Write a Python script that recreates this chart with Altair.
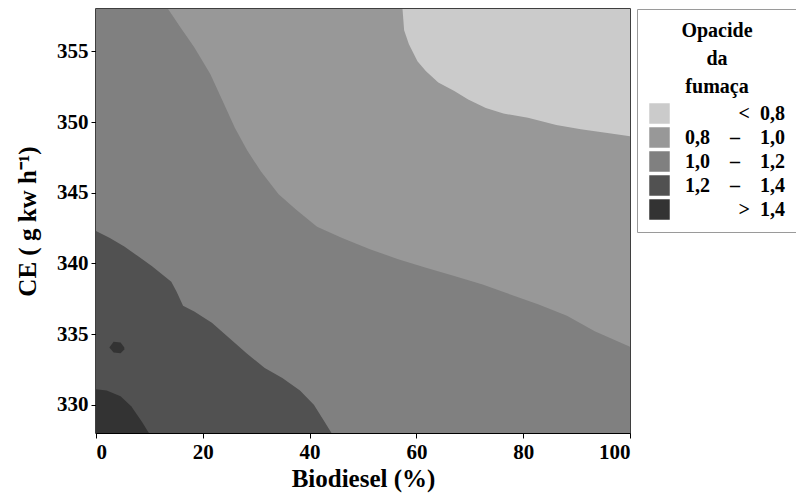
import altair as alt
import pandas as pd

NB = "\u00a0"
# Legend classes and their grey fills
bands = [
    "<" + NB * 2 + "0,8",
    "0,8" + NB * 4 + "–" + NB * 4 + "1,0",
    "1,0" + NB * 4 + "–" + NB * 4 + "1,2",
    "1,2" + NB * 4 + "–" + NB * 4 + "1,4",
    ">" + NB * 2 + "1,4",
]
grays = ["#cbcbcb", "#989898", "#808080", "#515151", "#333333"]

Y_MIN, Y_MAX = 328.0, 358.0
X_MIN, X_MAX = 0.0, 100.0

# Contour boundary: "< 0,8" / "0,8 – 1,0"
b4_x = [57.4, 57.7, 58.6, 60.2, 61.8, 64.1, 67.1, 69.7, 73.0, 76.3, 80.9, 86.2, 90.8, 96.1, 100.0]
b4_y = [358.0, 356.5, 355.5, 354.3, 353.6, 352.8, 352.2, 351.6, 351.0, 350.6, 350.3, 349.8, 349.5, 349.2, 349.0]

# Contour boundary: "0,8 – 1,0" / "1,0 – 1,2"
b3_x = [0.0, 13.5, 15.8, 18.4, 21.4, 23.7, 26.0, 28.3, 30.9, 34.2, 37.5, 41.4, 46.1, 51.3, 56.6, 61.8, 67.1,
        72.4, 77.6, 82.9, 88.2, 93.4, 100.0]
b3_y = [358.0, 358.0, 356.7, 355.3, 353.4, 351.5, 349.6, 348.0, 346.5, 344.9, 343.8, 342.6, 341.8, 341.0,
        340.3, 339.7, 339.1, 338.5, 337.8, 337.1, 336.3, 335.2, 334.1]

# Contour boundary: "1,0 – 1,2" / "1,2 – 1,4"
b2_x = [0.0, 2.6, 5.3, 7.9, 10.5, 14.1, 15.1, 16.3, 18.4, 21.7, 25.0, 28.3, 31.6, 34.9, 38.2, 40.8, 42.8, 44.1]
b2_y = [342.3, 341.8, 341.2, 340.5, 339.8, 338.7, 338.0, 337.0, 336.6, 335.8, 334.7, 333.6, 332.6, 331.9,
        331.0, 330.0, 328.8, 328.0]

# Contour boundary: "1,2 – 1,4" / "> 1,4"
b1_x = [0.0, 2.0, 4.6, 6.6, 8.6, 9.9]
b1_y = [331.1, 331.0, 330.6, 329.9, 328.8, 328.0]

# Small "> 1,4" island
isl_x = [2.5, 3.3, 4.6, 5.3]
isl_hi = [334.05, 334.45, 334.4, 334.05]
isl_lo = [334.05, 333.7, 333.65, 333.9]

rows = []
for x in [X_MIN, X_MAX]:
    rows.append(dict(layer="base", band=bands[1], x=x, lo=Y_MIN, hi=Y_MAX))
for x, y in zip(b4_x, b4_y):
    rows.append(dict(layer="l4", band=bands[0], x=x, lo=y, hi=Y_MAX))
for x, y in zip(b3_x, b3_y):
    rows.append(dict(layer="l3", band=bands[2], x=x, lo=Y_MIN, hi=y))
for x, y in zip(b2_x, b2_y):
    rows.append(dict(layer="l2", band=bands[3], x=x, lo=Y_MIN, hi=y))
for x, y in zip(b1_x, b1_y):
    rows.append(dict(layer="l1", band=bands[4], x=x, lo=Y_MIN, hi=y))
for x, h, l in zip(isl_x, isl_hi, isl_lo):
    rows.append(dict(layer="isl", band=bands[4], x=x, lo=l, hi=h))
df = pd.DataFrame(rows)

FONT = "Liberation Serif"

base = alt.Chart(df).mark_area(interpolate="linear", clip=True).encode(
    x=alt.X("x:Q", scale=alt.Scale(domain=[X_MIN, X_MAX], nice=False, zero=False),
            axis=alt.Axis(values=[0, 20, 40, 60, 80, 100], title="Biodiesel (%)")),
    y=alt.Y("hi:Q", scale=alt.Scale(domain=[Y_MIN, Y_MAX], nice=False, zero=False),
            axis=alt.Axis(values=[330, 335, 340, 345, 350, 355], title="CE ( g kw h⁻¹)")),
    y2="lo:Q",
    color=alt.Color("band:N", scale=alt.Scale(domain=bands, range=grays),
                    legend=alt.Legend(
                        title=["Opacide", "da", "fumaça"],
                        orient="none", legendX=541, legendY=0,
                        symbolType="square", symbolSize=420, symbolStrokeWidth=0,
                        symbolOpacity=1,
                        rowPadding=3,
                        labelAlign="right", labelOffset=115,
                        strokeColor="#9a9a9a", padding=12,
                        titleAnchor="middle", titleAlign="center",
                        titleLineHeight=28, titlePadding=6,
                    )),
)

layers = [base.transform_filter(alt.datum.layer == name) for name in ["base", "l4", "l3", "l2", "l1", "isl"]]

chart = alt.layer(*layers).properties(
    width=534, height=424,
    autosize=alt.AutoSizeParams(type="none"),
    padding={"left": 96, "top": 9, "right": 166, "bottom": 65},
).configure_view(
    stroke="black", strokeWidth=1.5
).configure_axis(
    grid=False,
    labelFont=FONT, labelFontSize=21, labelFontWeight="bold", labelColor="black",
    titleFont=FONT, titleFontSize=25, titleFontWeight="bold", titleColor="black",
    tickColor="black", tickSize=5, domainColor="black", labelPadding=3,
).configure_axisY(
    titlePadding=16
).configure_axisX(
    titlePadding=4
).configure_legend(
    labelFont=FONT, labelFontSize=20, labelFontWeight="bold", labelColor="black",
    titleFont=FONT, titleFontSize=20, titleFontWeight="bold", titleColor="black",
)

chart.save("out.html", embed_options={"renderer": "svg", "actions": False})
